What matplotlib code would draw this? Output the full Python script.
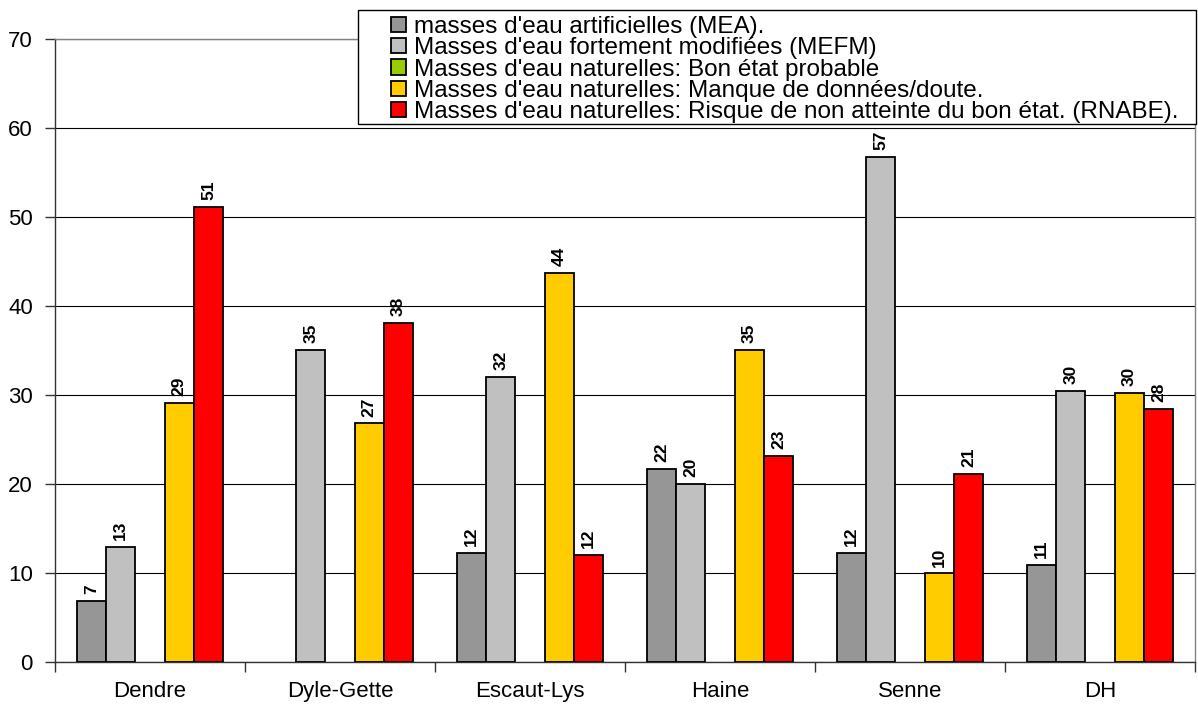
import matplotlib
matplotlib.use("Agg")
import matplotlib.pyplot as plt
import numpy as np
from matplotlib.patches import Patch, Rectangle

plt.rcParams['font.family'] = ['Liberation Sans', 'DejaVu Sans']

categories = ["Dendre", "Dyle-Gette", "Escaut-Lys", "Haine", "Senne", "DH"]
series_names = [
    "masses d'eau artificielles (MEA).",
    "Masses d'eau fortement modifiées (MEFM)",
    "Masses d'eau naturelles: Bon état probable",
    "Masses d'eau naturelles: Manque de données/doute.",
    "Masses d'eau naturelles: Risque de non atteinte du bon état. (RNABE).",
]
mea = [6.9, 0, 12.2, 21.7, 12.2, 10.9]
mefm = [12.95, 35.1, 32.0, 20.0, 56.7, 30.4]
bon_etat = [0, 0, 0, 0, 0, 0]
manque = [29.1, 26.8, 43.7, 35.1, 9.95, 30.2]
rnabe = [51.1, 38.1, 12.0, 23.1, 21.1, 28.4]
colors = ["#969696", "#C0C0C0", "#99CC00", "#FFCC00", "#FF0000"]
y_ticks = [0, 10, 20, 30, 40, 50, 60, 70]

all_series = [mea, mefm, bon_etat, manque, rnabe]

W, H = 1198, 706
fig = plt.figure(figsize=(W / 100, H / 100), dpi=100)
ax = fig.add_axes([55/W, 1 - 662/H, (1195-55)/W, (662-39)/H])

n = len(all_series)
bw = 1 / 6.5
x = np.arange(len(categories))
for i, (vals, c) in enumerate(zip(all_series, colors)):
    pos = x + (i - (n - 1) / 2) * bw
    for p, v in zip(pos, vals):
        if v > 0:
            ax.bar(p, v, width=bw, color=c, edgecolor="black", linewidth=1.3, zorder=3)
            ax.annotate(f"{round(v)}", (p, v), xytext=(0, 5), textcoords="offset points",
                        ha="center", va="bottom", rotation=90, fontsize=12.5,
                        fontweight="bold", zorder=4)

ax.set_xlim(-0.5, len(categories) - 0.5)
ax.set_ylim(0, 70)
ax.set_yticks(y_ticks)
ax.set_yticklabels([str(t) for t in y_ticks], fontsize=16)
ax.yaxis.grid(True, color="black", linewidth=0.8, zorder=0)
ax.set_axisbelow(True)

ax.set_xticks(x)
ax.set_xticklabels(categories, fontsize=16)
ax.tick_params(axis="x", length=0, pad=14)
ax.set_xticks(np.arange(len(categories) + 1) - 0.5, minor=True)
ax.tick_params(axis="x", which="minor", length=7, width=1, color="#333333")
ax.tick_params(axis="y", length=7, width=1, color="#333333", pad=9)

for s in ["left", "bottom"]:
    ax.spines[s].set_color("#333333")
    ax.spines[s].set_linewidth(1)
for s in ["top", "right"]:
    ax.spines[s].set_color("#808080")
    ax.spines[s].set_linewidth(1)

# legend frame
frame = Rectangle((358/W, 1 - 124/H), (1196-358)/W, (124-9.5)/H,
                  transform=fig.transFigure, facecolor="white", edgecolor="black",
                  linewidth=1, zorder=4)
fig.patches.append(frame)

handles = [Patch(facecolor=c, edgecolor="black", linewidth=1.3) for c in colors]
leg = fig.legend(handles, series_names, loc="upper left",
                 bbox_to_anchor=(391/W, 1 - 16/H),
                 fontsize=17.5, frameon=False,
                 handlelength=0.6, handleheight=0.6,
                 handletextpad=0.33, labelspacing=-0.03, borderpad=0,
                 borderaxespad=0)
leg.set_zorder(6)

fig.savefig("out.png", dpi=100)
